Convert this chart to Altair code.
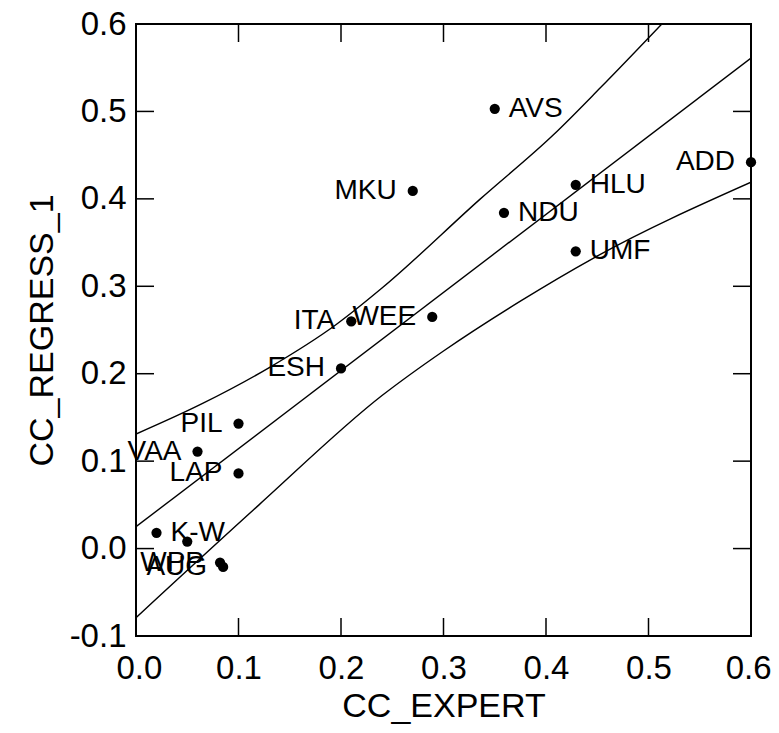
import altair as alt
import pandas as pd

# ---- data ----
sites = ["AVS", "ADD", "MKU", "HLU", "NDU", "UMF", "WEE", "ITA", "ESH",
         "PIL", "VAA", "LAP", "K-W", "", "WPP", "AUG"]
cc_expert = [0.350, 0.600, 0.270, 0.429, 0.359, 0.429, 0.289, 0.210, 0.200,
             0.100, 0.060, 0.100, 0.020, 0.050, 0.082, 0.085]
cc_regress = [0.503, 0.442, 0.409, 0.416, 0.384, 0.340, 0.265, 0.260, 0.206,
              0.143, 0.111, 0.086, 0.018, 0.008, -0.016, -0.021]
right_labelled = ["AVS", "HLU", "NDU", "UMF", "K-W"]

fit_x = [0.0, 0.6]
fit_y = [0.025, 0.561]

upper_x = [0.0, 0.065, 0.130, 0.195, 0.240, 0.336, 0.407, 0.453, 0.513]
upper_y = [0.131, 0.166, 0.207, 0.256, 0.298, 0.400, 0.473, 0.527, 0.600]

lower_x = [0.0, 0.120, 0.240, 0.300, 0.375, 0.446, 0.600]
lower_y = [-0.079, 0.050, 0.175, 0.226, 0.283, 0.332, 0.419]

x_ticks = [0.0, 0.1, 0.2, 0.3, 0.4, 0.5, 0.6]
y_ticks = [-0.1, 0.0, 0.1, 0.2, 0.3, 0.4, 0.5, 0.6]

# ---- tables ----
pts = pd.DataFrame({"site": sites, "x": cc_expert, "y": cc_regress})
curves = pd.concat([
    pd.DataFrame({"x": fit_x, "y": fit_y, "curve": "fit"}),
    pd.DataFrame({"x": upper_x, "y": upper_y, "curve": "upper"}),
    pd.DataFrame({"x": lower_x, "y": lower_y, "curve": "lower"}),
], ignore_index=True)
xt = pd.DataFrame({"x": x_ticks})
yt = pd.DataFrame({"y": y_ticks})

W, H = 615, 612
FONT = "Liberation Sans"
TL = 18

xscale = alt.Scale(domain=[0.0, 0.6], nice=False, zero=False)
yscale = alt.Scale(domain=[-0.1, 0.6], nice=False, zero=False)
label_expr = "replace(format(datum.value, '.1f'), '\u2212', '-')"

x_axis = alt.Axis(values=x_ticks, labelExpr=label_expr, tickSize=0, domain=False,
                  grid=False, labelFont=FONT, labelFontSize=33, labelColor="black",
                  labelPadding=16, labelFlush=True, labelFlushOffset=20,
                  title="CC_EXPERT", titleFont=FONT,
                  titleFontSize=34, titleFontWeight="normal", titleColor="black",
                  titleX=W / 2, titleY=80, titleBaseline="alphabetic",
                  titleAlign="center", labelOverlap=False)
y_axis = alt.Axis(values=y_ticks, labelExpr=label_expr, tickSize=0, domain=False,
                  grid=False, labelFont=FONT, labelFontSize=33, labelColor="black",
                  labelPadding=10, title="CC_REGRESS_1", titleFont=FONT,
                  titleFontSize=34, titleFontWeight="normal", titleColor="black",
                  titleX=-94, titleY=H / 2, titleAngle=-90, titleAlign="center",
                  titleBaseline="middle", labelFlush=False, labelOverlap=False)

X = alt.X("x:Q", scale=xscale, axis=x_axis)
Y = alt.Y("y:Q", scale=yscale, axis=y_axis)

lines = alt.Chart(curves).mark_line(color="black", strokeWidth=1.4,
                                    interpolate="monotone", clip=True).encode(
    x=X, y=Y, detail="curve:N", order="x:Q",
)

tick_style = dict(color="black", strokeWidth=1.5)
bottom_ticks = alt.Chart(xt).mark_rule(**tick_style).encode(
    x=X, y=alt.value(H), y2=alt.value(H - TL))
top_ticks = alt.Chart(xt).mark_rule(**tick_style).encode(
    x=X, y=alt.value(0), y2=alt.value(TL))
left_ticks = alt.Chart(yt).mark_rule(**tick_style).encode(
    y=Y, x=alt.value(0), x2=alt.value(TL))
right_ticks = alt.Chart(yt).mark_rule(**tick_style).encode(
    y=Y, x=alt.value(W), x2=alt.value(W - TL))

points = alt.Chart(pts).mark_circle(color="black", opacity=1, size=105).encode(
    x=X, y=Y,
)

right_set = "indexof(" + str(right_labelled).replace("'", '"') + ", datum.site) >= 0"
labels_right = alt.Chart(pts).transform_filter(right_set).mark_text(
    align="left", baseline="middle", dx=14, font=FONT, fontSize=28, color="black"
).encode(x=X, y=Y, text="site:N")
labels_left = alt.Chart(pts).transform_filter("!(" + right_set + ")").mark_text(
    align="right", baseline="middle", dx=-16, font=FONT, fontSize=28, color="black"
).encode(x=X, y=Y, text="site:N")

chart = alt.layer(
    lines, bottom_ticks, top_ticks, left_ticks, right_ticks,
    points, labels_right, labels_left
).properties(
    width=W, height=H,
    padding={"left": 128, "top": 16, "right": 20, "bottom": 89},
    autosize=alt.AutoSizeParams(type="none"),
    background="white",
).configure_view(stroke="black", strokeWidth=2)

chart.save("out.html", embed_options={"renderer": "svg", "actions": False})
